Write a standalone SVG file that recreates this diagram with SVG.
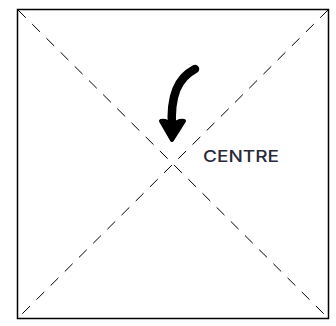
<svg xmlns="http://www.w3.org/2000/svg" width="336" height="326" viewBox="0 0 336 326">
<style>
.frame{fill:#fff;stroke:#000;stroke-width:1.5}
.diag{stroke:#000;stroke-width:1;stroke-dasharray:11 9;fill:none}
.arrow{stroke:#000;stroke-width:8.5;fill:none;stroke-linecap:round;stroke-linejoin:round}
.head{stroke:#000;stroke-width:4;fill:#000;stroke-linejoin:round}
.label{font-family:Inter,"Open Sans","Liberation Sans",sans-serif;font-size:16px;font-weight:500;fill:#2a2a3c}
</style>
<rect width="336" height="326" fill="#fff"/>
<g id="frame"><rect class="frame" x="17.5" y="9.5" width="311" height="309"/></g>
<g id="connectors">
<line class="diag" x1="18" y1="10" x2="328" y2="318"/>
<line class="diag" x1="328" y1="10" x2="18" y2="318"/>
</g>
<g id="arrow">
<path class="arrow" d="M195,69 C178,78 170,95 172,128"/>
<path class="head" d="M161,121 Q167,120 172,126 Q178,120 184,121 L172,140 Z"/>
</g>
<g id="centre"><text class="label" x="203" y="162" textLength="76" lengthAdjust="spacingAndGlyphs">CENTRE</text></g>
</svg>
